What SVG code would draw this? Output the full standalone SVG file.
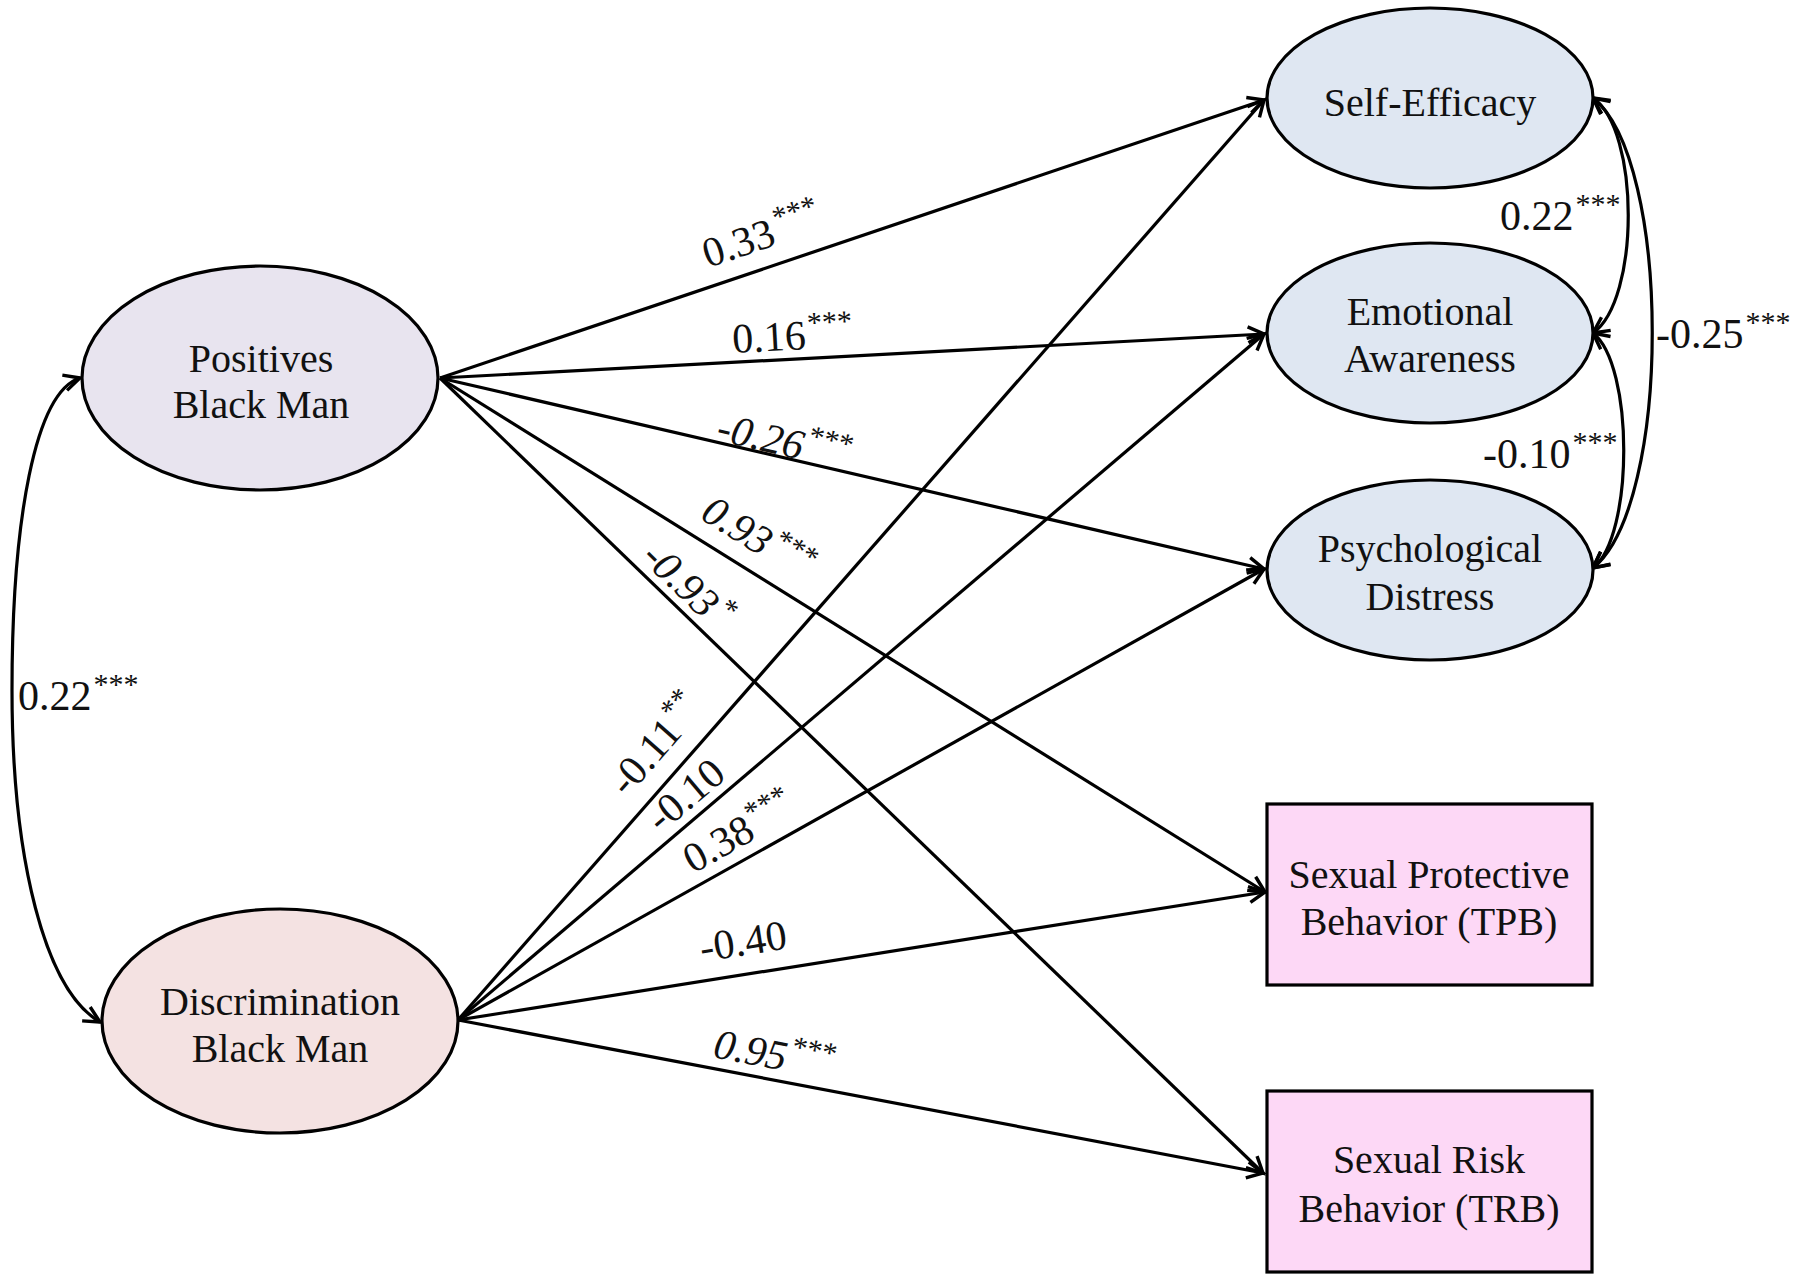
<svg xmlns="http://www.w3.org/2000/svg" width="1800" height="1282" viewBox="0 0 1800 1282">
<defs>
<style>
.node{stroke:#000;stroke-width:3.2}
.blue{fill:#dfe7f2}
.lav{fill:#e8e4ef}
.rose{fill:#f4e2e2}
.pink{fill:#fdd8f6}
.nt{font-family:"Liberation Serif","Times New Roman",serif;font-size:40px;fill:#111;text-anchor:middle}
.lbl{font-family:"Liberation Serif","Times New Roman",serif;font-size:42px;fill:#111}
.it{font-style:italic}
.st{font-size:30px}
.edge{fill:none;stroke:#000;stroke-width:3.2}
</style>
<marker id="ah" viewBox="-20 -12 24 24" refX="0" refY="0" markerWidth="24" markerHeight="24" markerUnits="userSpaceOnUse" orient="auto-start-reverse">
<path d="M-16,-8 L0,0 L-16,8" fill="none" stroke="#000" stroke-width="3.4" stroke-linejoin="miter"/>
</marker>
</defs>
<rect width="1800" height="1282" fill="#fff"/>

<g id="connectors">
<line class="edge" x1="440" y1="378" x2="1264" y2="100" marker-end="url(#ah)"/>
<line class="edge" x1="440" y1="378" x2="1264" y2="334" marker-end="url(#ah)"/>
<line class="edge" x1="440" y1="378" x2="1264" y2="569" marker-end="url(#ah)"/>
<line class="edge" x1="440" y1="378" x2="1265" y2="892" marker-end="url(#ah)"/>
<line class="edge" x1="440" y1="378" x2="1263" y2="1173" marker-end="url(#ah)"/>
<line class="edge" x1="458" y1="1020" x2="1264" y2="100" marker-end="url(#ah)"/>
<line class="edge" x1="458" y1="1020" x2="1264" y2="334" marker-end="url(#ah)"/>
<line class="edge" x1="458" y1="1020" x2="1264" y2="569" marker-end="url(#ah)"/>
<line class="edge" x1="458" y1="1020" x2="1265" y2="892" marker-end="url(#ah)"/>
<line class="edge" x1="458" y1="1020" x2="1263" y2="1173" marker-end="url(#ah)"/>
<path class="edge" d="M80,378 C35,392 12,520 12,690 C12,860 45,990 100,1022" marker-start="url(#ah)" marker-end="url(#ah)"/>
<path class="edge" d="M1593,98 C1640,130 1640,300 1593,333" marker-start="url(#ah)" marker-end="url(#ah)"/>
<path class="edge" d="M1593,333 C1634,365 1634,536 1593,568" marker-start="url(#ah)" marker-end="url(#ah)"/>
<path class="edge" d="M1593,98 C1672,160 1672,505 1593,568" marker-start="url(#ah)" marker-end="url(#ah)"/>

<text class="lbl" transform="translate(708,268) rotate(-18.64)">0.33<tspan class="st" dx="4" dy="-16">***</tspan></text>
<text class="lbl" transform="translate(733,353) rotate(-3.06)">0.16<tspan class="st" dx="2" dy="-16">***</tspan></text>
<text class="lbl it" transform="translate(715,440) rotate(13.04)">-0.26<tspan class="st" dx="2" dy="-16">***</tspan></text>
<text class="lbl it" transform="translate(699,518) rotate(31.92)">0.93<tspan class="st" dx="2" dy="-16">***</tspan></text>
<text class="lbl it" transform="translate(640,559) rotate(44)">-0.93<tspan class="st" dx="2" dy="-16">*</tspan></text>
<text class="lbl" transform="translate(627,798) rotate(-48.77)">-0.11<tspan class="st" dx="2" dy="-16">**</tspan></text>
<text class="lbl" transform="translate(661,834) rotate(-40.4)">-0.10</text>
<text class="lbl" transform="translate(693,874) rotate(-29.23)">0.38<tspan class="st" dx="2" dy="-16">***</tspan></text>
<text class="lbl" transform="translate(702,962) rotate(-9.01)">-0.40</text>
<text class="lbl it" transform="translate(712,1057) rotate(10.76)">0.95<tspan class="st" dx="2" dy="-16">***</tspan></text>
<text class="lbl" x="18" y="710">0.22<tspan class="st" dx="2" dy="-16">***</tspan></text>
<text class="lbl" x="1500" y="230">0.22<tspan class="st" dx="2" dy="-16">***</tspan></text>
<text class="lbl" x="1483" y="468">-0.10<tspan class="st" dx="2" dy="-16">***</tspan></text>
<text class="lbl" x="1656" y="348">-0.25<tspan class="st" dx="2" dy="-16">***</tspan></text>
</g>

<g id="self-efficacy">
<ellipse class="node blue" cx="1430" cy="98" rx="163" ry="90"/>
<text class="nt" x="1430" y="116">Self-Efficacy</text>
</g>
<g id="emotional-awareness">
<ellipse class="node blue" cx="1430" cy="333" rx="163" ry="90"/>
<text class="nt" x="1430" y="325">Emotional</text>
<text class="nt" x="1430" y="372">Awareness</text>
</g>
<g id="psychological-distress">
<ellipse class="node blue" cx="1430" cy="570" rx="163" ry="90"/>
<text class="nt" x="1430" y="562">Psychological</text>
<text class="nt" x="1430" y="610">Distress</text>
</g>
<g id="positives-black-man">
<ellipse class="node lav" cx="260" cy="378" rx="178" ry="112"/>
<text class="nt" x="261" y="372">Positives</text>
<text class="nt" x="261" y="418">Black Man</text>
</g>
<g id="discrimination-black-man">
<ellipse class="node rose" cx="280" cy="1021" rx="178" ry="112"/>
<text class="nt" x="280" y="1015">Discrimination</text>
<text class="nt" x="280" y="1062">Black Man</text>
</g>
<g id="sexual-protective">
<rect class="node pink" x="1267" y="804" width="325" height="181"/>
<text class="nt" x="1429" y="888">Sexual Protective</text>
<text class="nt" x="1429" y="935">Behavior (TPB)</text>
</g>
<g id="sexual-risk">
<rect class="node pink" x="1267" y="1091" width="325" height="181"/>
<text class="nt" x="1429" y="1173">Sexual Risk</text>
<text class="nt" x="1429" y="1222">Behavior (TRB)</text>
</g>
</svg>
